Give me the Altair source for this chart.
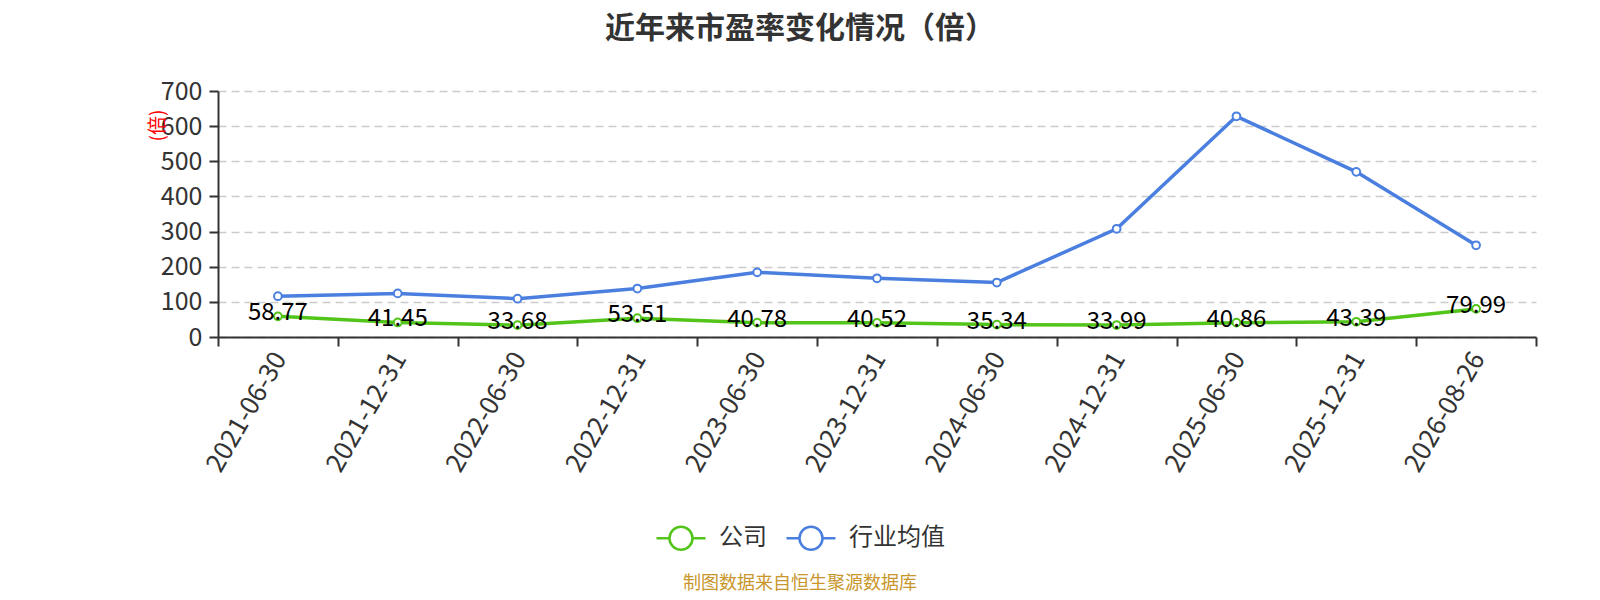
import altair as alt
import pandas as pd

dates = ["2021-06-30", "2021-12-31", "2022-06-30", "2022-12-31", "2023-06-30",
         "2023-12-31", "2024-06-30", "2024-12-31", "2025-06-30", "2025-12-31", "2026-08-26"]
company = [58.77, 41.45, 33.68, 53.51, 40.78, 40.52, 35.34, 33.99, 40.86, 43.39, 79.99]
industry = [116, 124, 109, 138, 184, 167, 155, 308, 628, 470, 261]
series_names = ["公司", "行业均值"]
colors = ["#52c41a", "#4a7fe0"]
y_ticks = [0, 100, 200, 300, 400, 500, 600, 700]

rows = []
for d, c, i in zip(dates, company, industry):
    rows.append({"date": d, "series": series_names[0], "value": c, "label": f"{c:.2f}"})
    rows.append({"date": d, "series": series_names[1], "value": i, "label": ""})
df = pd.DataFrame(rows)
df_company = df[df.series == series_names[0]]

FONT = "Noto Sans CJK SC"
W, H = 1318, 246

x_axis = alt.Axis(title=None, labelAngle=-60, labelAlign="right", labelBaseline="middle",
                  labelFontSize=26, labelColor="#333", labelFont=FONT, labelPadding=8,
                  labelOffset=2,
                  tickBand="extent", tickColor="#333", tickSize=9, tickWidth=2,
                  domainColor="#333", domainWidth=2, grid=False)
x_scale = alt.Scale(type="band", paddingInner=0, paddingOuter=0)
x_enc = alt.X("date:N", sort=dates, bandPosition=0.5, scale=x_scale, axis=x_axis)

y_axis = alt.Axis(values=y_ticks, title="(倍)",
                  titleColor="red", titleFontSize=19, titleFont=FONT, titleFontWeight="normal",
                  titleAngle=270, titleX=-61, titleY=34, titleAlign="center", titleBaseline="middle",
                  labelFontSize=25, labelColor="#333", labelFont=FONT, labelPadding=7,
                  tickColor="#333", tickSize=9, tickWidth=2,
                  domainColor="#333", domainWidth=2,
                  grid=True, gridColor="#cccccc", gridDash=[8, 5], gridWidth=1.5)
y_enc = alt.Y("value:Q", scale=alt.Scale(domain=[0, 700]), axis=y_axis)

legend_path = ("M-1,0 L-0.47,0 M0.47,0 L1,0 "
               "M-0.47,0 A0.47,0.47 0 1,1 0.47,0 A0.47,0.47 0 1,1 -0.47,0")

color_enc = alt.Color("series:N", sort=series_names,
                      scale=alt.Scale(domain=series_names, range=colors),
                      legend=alt.Legend(title=None, orient="none", direction="horizontal",
                                        legendX=437, legendY=421,
                                        symbolType=legend_path, symbolSize=2400,
                                        symbolStrokeWidth=2.5, symbolFillColor="white",
                                        labelFontSize=24, labelColor="#333", labelFont=FONT,
                                        columnPadding=14, labelOffset=12))

base = alt.Chart(df).encode(x=x_enc, y=y_enc, color=color_enc)

lines = base.mark_line(strokeWidth=3.5).encode(detail="series:N")
points = base.mark_point(filled=False, fill="white", fillOpacity=1, size=60,
                         strokeWidth=2, opacity=1)

labels = alt.Chart(df_company).mark_text(fontSize=24, font=FONT, color="#000",
                                         baseline="middle", dy=-3).encode(
    x=x_enc, y=y_enc, text="label:N",
)

footer_df = pd.DataFrame({"t": ["制图数据来自恒生聚源数据库"]})
footer = alt.Chart(footer_df).mark_text(fontSize=18, font=FONT, color="#c8962a",
                                        align="center", baseline="middle").encode(
    x=alt.value(582), y=alt.value(493), text="t:N")

chart = alt.layer(lines, points, labels, footer).properties(
    width=W, height=H,
    padding={"left": 210, "top": 83, "right": 56, "bottom": 255},
    autosize=alt.AutoSizeParams(type="none"),
    title=alt.TitleParams("近年来市盈率变化情况（倍）", fontSize=30, font=FONT, fontWeight="bold",
                          color="#333", anchor="middle", dx=-77, offset=35),
).configure_view(stroke=None)

chart.save("out.html", embed_options={"renderer": "svg", "actions": False})
